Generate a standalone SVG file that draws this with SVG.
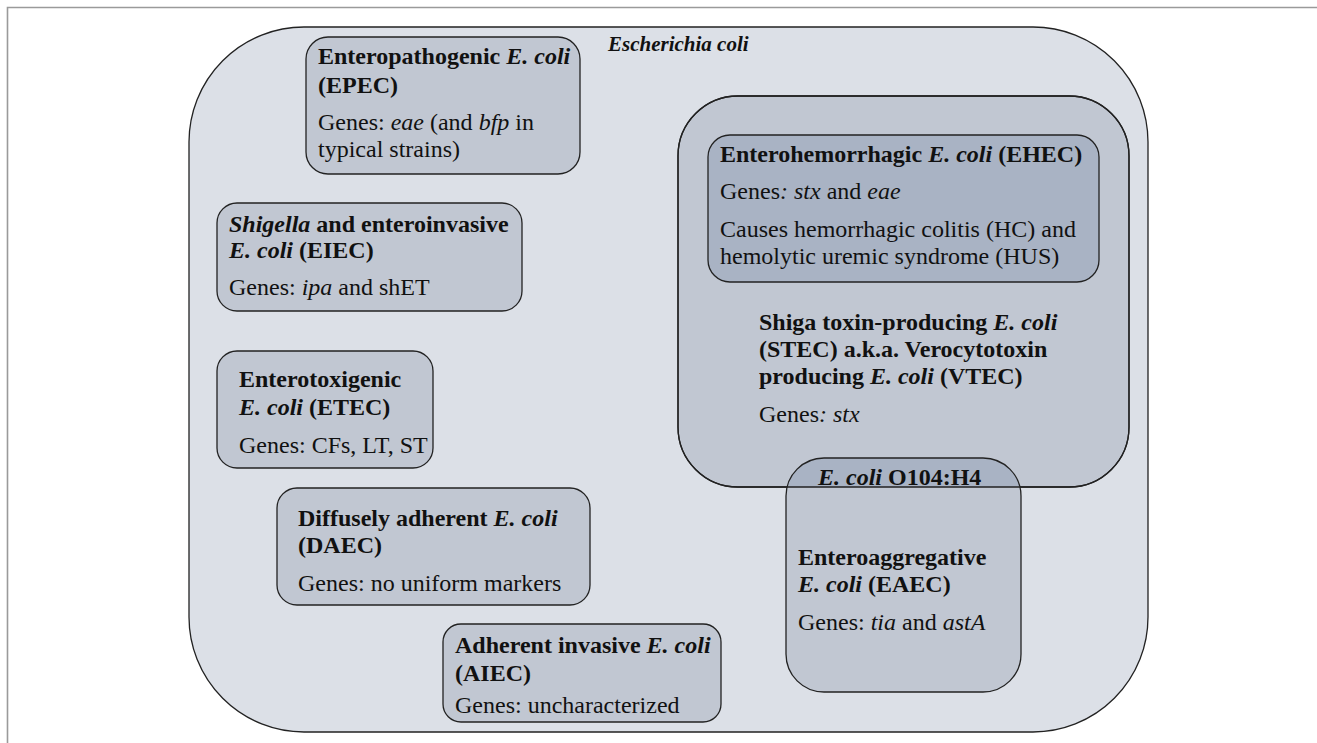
<svg xmlns="http://www.w3.org/2000/svg" width="1317" height="743" viewBox="0 0 1317 743">
<defs>
<style>
text{font-family:"Liberation Serif","Times New Roman",serif;font-size:24px;fill:#111}
.b{font-weight:bold}
.i{font-style:italic}
.box{fill:#c1c7d2;stroke:#222;stroke-width:1.3}
.dark{fill:#a9b3c4}
.ln{fill:none;stroke:#222;stroke-width:1.3}
</style>
<clipPath id="stecClip"><rect x="678" y="96" width="451" height="391" rx="60"/></clipPath>
</defs>
<rect width="1317" height="743" fill="#fff"/>
<path d="M7.5 743 V7.5 H1317" fill="none" stroke="#9a9a9a" stroke-width="1.6"/>

<g id="ecoli">
<rect x="189" y="27" width="959" height="705" rx="115" fill="#dce0e7" stroke="#222" stroke-width="1.3"/>
<text x="608" y="51" class="b i" style="font-size:21px">Escherichia coli</text>
</g>

<g id="epec">
<rect class="box" x="306" y="37" width="274" height="137" rx="22"/>
<text x="318" y="64" class="b">Enteropathogenic <tspan class="i">E. coli</tspan></text>
<text x="318" y="93" class="b">(EPEC)</text>
<text x="318" y="130">Genes: <tspan class="i">eae</tspan> (and <tspan class="i">bfp</tspan> in</text>
<text x="318" y="157">typical strains)</text>
</g>

<g id="eiec">
<rect class="box" x="217" y="203" width="305" height="108" rx="20"/>
<text x="229" y="232" class="b"><tspan class="i">Shigella</tspan> and enteroinvasive</text>
<text x="229" y="258" class="b"><tspan class="i">E. coli</tspan> (EIEC)</text>
<text x="229" y="295">Genes: <tspan class="i">ipa</tspan> and shET</text>
</g>

<g id="etec">
<rect class="box" x="217" y="351" width="216" height="117" rx="20"/>
<text x="239" y="387" class="b">Enterotoxigenic</text>
<text x="239" y="415" class="b"><tspan class="i">E. coli</tspan> (ETEC)</text>
<text x="239" y="453">Genes: CFs, LT, ST</text>
</g>

<g id="daec">
<rect class="box" x="277" y="488" width="313" height="117" rx="20"/>
<text x="298" y="526" class="b">Diffusely adherent <tspan class="i">E. coli</tspan></text>
<text x="298" y="553" class="b">(DAEC)</text>
<text x="298" y="591">Genes: no uniform markers</text>
</g>

<g id="aiec">
<rect class="box" x="443" y="624" width="278" height="98" rx="18"/>
<text x="455" y="653" class="b">Adherent invasive <tspan class="i">E. coli</tspan></text>
<text x="455" y="681" class="b">(AIEC)</text>
<text x="455" y="713">Genes: uncharacterized</text>
</g>

<g id="stec">
<rect class="box" x="678" y="96" width="451" height="391" rx="60"/>
<text x="759" y="330" class="b">Shiga toxin-producing <tspan class="i">E. coli</tspan></text>
<text x="759" y="357" class="b">(STEC) a.k.a. Verocytotoxin</text>
<text x="759" y="384" class="b">producing <tspan class="i">E. coli</tspan> (VTEC)</text>
<text x="759" y="422">Genes<tspan class="i">: stx</tspan></text>
</g>

<g id="ehec">
<rect class="box dark" x="708" y="135" width="391" height="147" rx="22"/>
<text x="720" y="162" class="b">Enterohemorrhagic <tspan class="i">E. coli</tspan> (EHEC)</text>
<text x="720" y="199">Genes<tspan class="i">: stx</tspan> and <tspan class="i">eae</tspan></text>
<text x="720" y="237">Causes hemorrhagic colitis (HC) and</text>
<text x="720" y="264">hemolytic uremic syndrome (HUS)</text>
</g>

<g id="eaec">
<rect x="786" y="458" width="235" height="234" rx="38" fill="#c1c7d2"/>
<rect x="786" y="458" width="235" height="234" rx="38" class="dark" clip-path="url(#stecClip)"/>
<rect x="786" y="458" width="235" height="234" rx="38" class="ln"/>
<rect x="678" y="96" width="451" height="391" rx="60" class="ln"/>
<text x="818" y="485" class="b"><tspan class="i">E. coli</tspan> O104:H4</text>
<text x="798" y="565" class="b">Enteroaggregative</text>
<text x="798" y="592" class="b"><tspan class="i">E. coli</tspan> (EAEC)</text>
<text x="798" y="630">Genes: <tspan class="i">tia</tspan> and <tspan class="i">astA</tspan></text>
</g>

<g id="connectors"></g>
</svg>
